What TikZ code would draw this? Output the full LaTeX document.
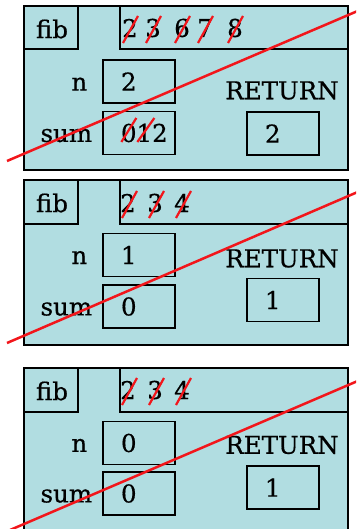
\documentclass[tikz,border=0pt]{standalone}
\usepackage{fontspec}
\setmainfont[FakeBold=0.6]{DejaVu Serif}
\usepackage{xcolor}
\usepackage{tikz}
\usetikzlibrary{positioning}
\definecolor{kframe}{HTML}{B1DDE1}
\definecolor{kred}{HTML}{F2161B}

\begin{document}
\begin{tikzpicture}[x=1pt, y=-1pt,
  frame/.style={fill=kframe, draw=black, line width=1.4pt},
  rule/.style={draw=black, line width=1.4pt},
  txt/.style={font=\fontsize{24.5}{28}\selectfont, inner sep=0pt},
  valbox/.style={draw=black, line width=1.3pt, minimum width=72pt, minimum height=43pt,
    text width=36pt, inner xsep=18pt, inner ysep=0pt, align=left, font=\fontsize{24.5}{28}\selectfont},
  tick/.style={draw=kred, line width=2.2pt},
  cross/.style={draw=kred, line width=2.5pt}]
\useasboundingbox (0,0) rectangle (356,529);
\clip (0,0) rectangle (356,529);

% first call: n = 2
\draw[frame] (24,6) rectangle (348,170);
\draw[rule] (24,6) rectangle (78,49);
\draw[rule] (120,6) rectangle (348,49);
\node[txt] (fib1) at (52,29) {fib};
\foreach \d/\x [count=\i] in {2/130,3/153,6/182,7/205,8/235} {
  \node[txt] (hdr1-\i) at (\x,28) {\d};
  \draw[tick] ([shift={(-7,15)}]hdr1-\i.center) -- ([shift={(8,-12)}]hdr1-\i.center);
}
\node[valbox] (n1) at (139,81.5) {2};
\node[valbox] (sum1) at (139,133) {012};
\draw[tick] ([shift={(19,9)}]sum1.west) -- ([shift={(34,-15)}]sum1.west);
\draw[tick] ([shift={(35,9)}]sum1.west) -- ([shift={(52,-15)}]sum1.west);
\node[txt, anchor=base east] (nlab1) at ([xshift=-15pt]n1.base west) {n};
\node[txt, anchor=base east] (sumlab1) at ([xshift=-10pt]sum1.base west) {sum};
\node[txt] (retlab1) at (282,90.5) {RETURN};
\node[valbox] (ret1) at (283,133.5) {2};
\draw[cross] (7,161) -- (360,10);

% second call: n = 1
\draw[frame] (24,180) rectangle (348,345);
\draw[rule] (24,180) rectangle (78,224);
\draw[rule] (120,180) rectangle (348,224);
\node[txt] (fib2) at (52,203) {fib};
\foreach \d/\x [count=\i] in {2/128,3/155,4/182} {
  \node[txt] (hdr2-\i) at (\x,203) {\d};
  \draw[tick] ([shift={(-6,15)}]hdr2-\i.center) -- ([shift={(9,-12)}]hdr2-\i.center);
}
\node[valbox] (n2) at (139,255) {1};
\node[valbox] (sum2) at (139,306.5) {0};
\node[txt, anchor=base east] (nlab2) at ([xshift=-15pt]n2.base west) {n};
\node[txt, anchor=base east] (sumlab2) at ([xshift=-10pt]sum2.base west) {sum};
\node[txt] (retlab2) at (282,258.5) {RETURN};
\node[valbox] (ret2) at (283,300) {1};
\draw[cross] (7,343) -- (360,191);

% third call: n = 0
\draw[frame] (24,368) rectangle (348,540);
\draw[rule] (24,368) rectangle (78,412);
\draw[rule] (120,368) rectangle (348,412);
\node[txt] (fib3) at (52,391) {fib};
\foreach \d/\x [count=\i] in {2/128,3/155,4/182} {
  \node[txt] (hdr3-\i) at (\x,390) {\d};
  \draw[tick] ([shift={(-6,15)}]hdr3-\i.center) -- ([shift={(9,-12)}]hdr3-\i.center);
}
\node[valbox] (n3) at (139,443) {0};
\node[valbox] (sum3) at (139,493.5) {0};
\node[txt, anchor=base east] (nlab3) at ([xshift=-15pt]n3.base west) {n};
\node[txt, anchor=base east] (sumlab3) at ([xshift=-10pt]sum3.base west) {sum};
\node[txt] (retlab3) at (282,445) {RETURN};
\node[valbox] (ret3) at (283,487.5) {1};
\draw[cross] (10,530) -- (360,380);
\end{tikzpicture}
\end{document}
